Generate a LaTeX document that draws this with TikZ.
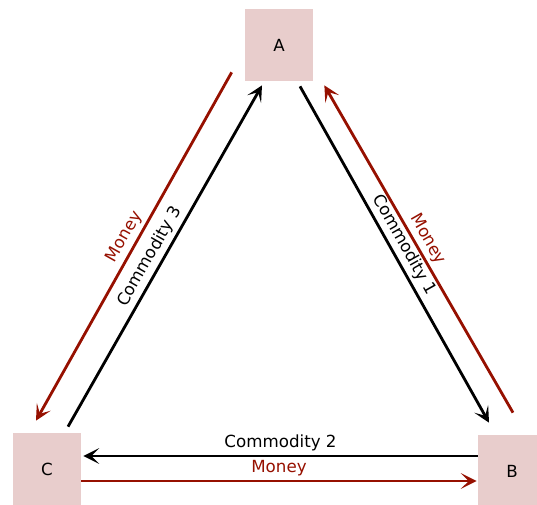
\documentclass[tikz,border=0pt]{standalone}
\usepackage{fontspec}
\setmainfont{DejaVu Sans}
\usepackage{xcolor}
\usetikzlibrary{positioning,calc,arrows.meta}
\definecolor{boxpink}{RGB}{232,205,204}
\definecolor{payred}{RGB}{150,16,0}
\tikzset{
	agent/.style={fill=boxpink,minimum width=1.36cm,minimum height=1.44cm,font=\fontsize{9.5}{11}\selectfont},
	goods/.style={draw=black,line width=1.6pt,-{Stealth[length=9pt,width=9pt,inset=4.5pt]}},
	pay/.style={draw=payred,line width=1.6pt,-{Stealth[length=9pt,width=9pt,inset=4.5pt]}},
	lbl/.style={font=\fontsize{9.5}{11}\selectfont,sloped,above,inner sep=2pt},
}
\begin{document}
\begin{tikzpicture}[x=0.02cm,y=-0.02cm]
		\useasboundingbox (0,0) rectangle (537,504);
		\node[agent] (A) at (279,45) {A};
		\node[agent] (C) at (47,469) {C};
		\node[agent] (B) at (512,471) {B};
		% A and C
		\draw[pay] ($(A.south west)+(-13,-9)$) -- node[lbl,text=payred,pos=0.49] {Money} ($(C.north)+(-11,-12)$);
		\draw[goods] ($(C.north)+(21,-6)$) -- node[lbl,pos=0.48] {Commodity 3} ($(A.south)+(-17,4)$);
		% A and B
		\draw[goods] ($(A.south)+(21,5)$) -- node[lbl,pos=0.49] {Commodity 1} ($(B.north)+(-23,-12)$);
		\draw[pay] ($(B.north)+(1,-22)$) -- node[lbl,text=payred,pos=0.51] {Money} ($(A.south east)+(11,4)$);
		% B and C
		\draw[goods] ($(B.west)+(0,-15)$) -- node[lbl] {Commodity 2} ($(C.east)+(2,-13)$);
		\draw[pay] ($(C.east)+(0,12)$) -- node[lbl,text=payred] {Money} ($(B.west)+(-1,10)$);
	\end{tikzpicture}
\end{document}
